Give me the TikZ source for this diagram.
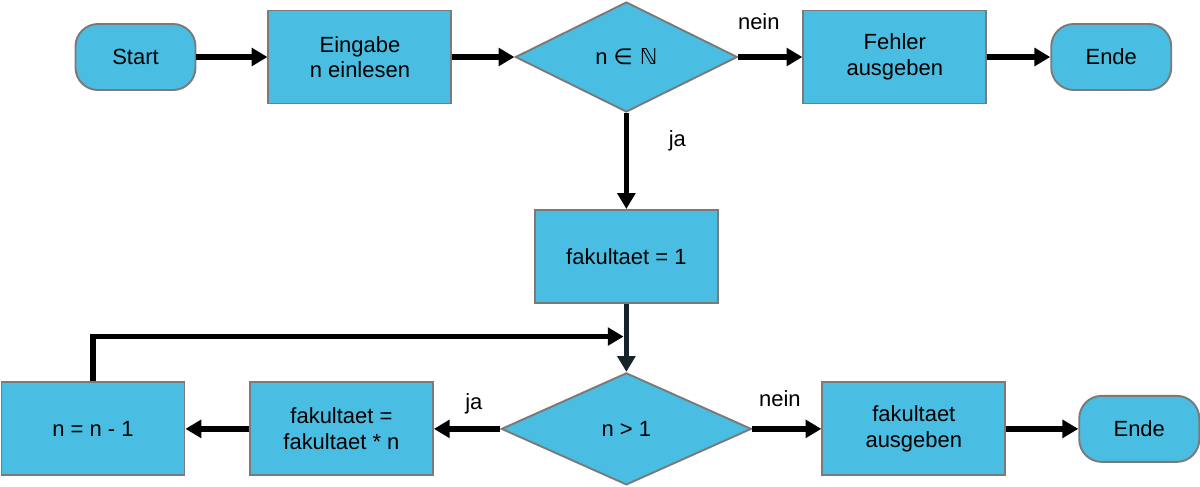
\documentclass[tikz,border=0pt]{standalone}
\usepackage{fontspec}
\setmainfont{Liberation Sans}
\newfontfamily\dejavu{DejaVu Sans}
\usetikzlibrary{shapes.geometric, arrows.meta, positioning, calc}
\definecolor{boxblue}{RGB}{74,190,226}
\definecolor{boxborder}{RGB}{122,122,122}
\definecolor{darkline}{RGB}{22,36,42}

\begin{document}
\begin{tikzpicture}[
    font=\fontsize{12.5}{14.5}\selectfont,
    terminal/.style={rectangle, draw=boxborder, line width=1.1pt, fill=boxblue, minimum width=2.4cm, minimum height=1.32cm, rounded corners=0.45cm, align=center},
    box/.style={rectangle, draw=boxborder, line width=1.1pt, fill=boxblue, minimum width=3.66cm, minimum height=1.86cm, align=center},
    decision/.style={diamond, draw=boxborder, line width=1.1pt, fill=boxblue, inner sep=0pt, minimum width=4.44cm, minimum height=2.2cm, align=center},
    arrow/.style={-{Triangle[length=9pt, width=10pt]}, line width=3pt},
    branch/.style={font=\fontsize{12.5}{14.5}\selectfont}
]
    \useasboundingbox (0,0) rectangle (24,-9.72);

    % Nodes
    \node[terminal] (start) at (2.71,-1.14) {Start};
    \node[box, right=1.42cm of start] (input) {Eingabe\\n einlesen};
    \node[decision, right=1.24cm of input] (check) {n {\dejavu ∈ ℕ}};
    \node[box, right=1.28cm of check] (error) {Fehler\\ausgeben};
    \node[terminal, right=1.26cm of error] (endtop) {Ende};

    \node[box, below=1.92cm of check] (init) {fakultaet = 1};
    \node[decision, below=1.36cm of init, minimum width=5cm, minimum height=2.24cm] (loop) {n > 1};
    \node[box, right=1.38cm of loop] (output) {fakultaet\\ausgeben};
    \node[terminal, right=1.44cm of output] (endbottom) {Ende};
    \node[box, left=1.33cm of loop] (multiply) {fakultaet =\\fakultaet * n};
    \node[box, left=1.27cm of multiply] (decrement) {n = n - 1};

    \coordinate (merge) at ($(init.south)!0.48!(loop.north)$);

    % Arrows
    \draw[arrow] (start.east) -- (input.west);
    \draw[arrow] (input.east) -- (check.west);
    \draw[arrow] (check.east) -- node[branch, pos=0.32, yshift=20pt] {nein} (error.west);
    \draw[arrow] (error.east) -- (endtop.west);

    \draw[arrow] (check.south) -- node[branch, pos=0.29, xshift=29pt] {ja} (init.north);
    \draw[arrow, darkline] (init.south) -- (loop.north);

    \draw[arrow] (loop.west) -- node[branch, pos=0.4, yshift=14pt] {ja} (multiply.east);
    \draw[arrow] (multiply.west) -- (decrement.east);
    \draw[arrow] (decrement.north) |- ([xshift=-1.6pt]merge);

    \draw[arrow] (loop.east) -- node[branch, pos=0.4, yshift=17pt] {nein} (output.west);
    \draw[arrow] (output.east) -- (endbottom.west);

\end{tikzpicture}
\end{document}
